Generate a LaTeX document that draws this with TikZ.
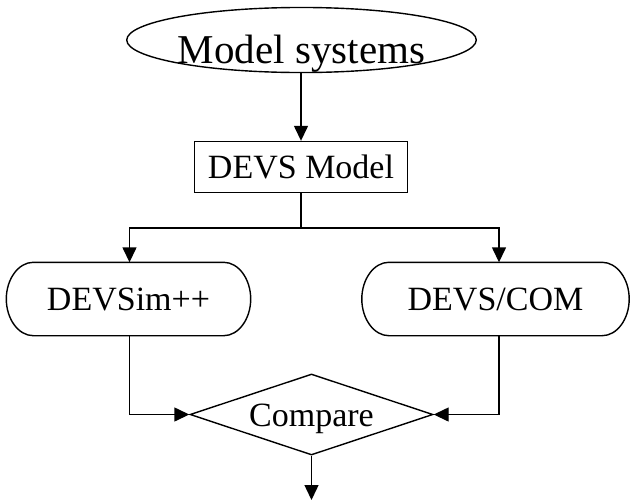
\documentclass[tikz,border=0pt]{standalone}
\usepackage{fontspec}
\setmainfont{Liberation Serif}
\usetikzlibrary{shapes.geometric,arrows.meta}
\begin{document}
\begin{tikzpicture}[x=1pt,y=-1pt,
  every node/.style={inner sep=0pt, line width=1.4pt},
  lbl/.style={font=\fontsize{34}{40}\selectfont, text height=23.5pt, text depth=0pt},
  conn/.style={line width=1.4pt},
  arr/.style={conn, -{Triangle[length=15pt,width=14pt]}},
  oval/.style={draw, ellipse, minimum width=333pt, minimum height=60pt,
    font=\fontsize{41}{48}\selectfont, text height=46pt, text depth=0pt},
  boxnode/.style={draw, rectangle, lbl, minimum width=213pt, minimum height=51pt},
  pill/.style={rectangle, lbl, minimum height=72pt},
  decide/.style={draw, diamond, aspect=3, lbl, minimum width=243pt, minimum height=81pt}
]
\useasboundingbox (0,0) rectangle (631,501);
\node[oval] (ms) at (301.5,40) {Model systems};
\node[boxnode] (dm) at (301,167) {DEVS Model};
\node[pill, minimum width=243pt] (sim) at (128.5,299) {DEVSim++};
\node[pill, minimum width=266pt] (com) at (495.5,299) {DEVS/COM};
\node[decide] (cmp) at (311.5,414.5) {Compare};
\foreach \n in {sim,com}{
  \draw[conn] ([xshift=27pt]\n.north west) -- ([xshift=-27pt]\n.north east)
    .. controls ([xshift=-12.1pt]\n.north east) and ([yshift=19.9pt]\n.east) .. (\n.east)
    .. controls ([yshift=-19.9pt]\n.east) and ([xshift=-12.1pt]\n.south east) .. ([xshift=-27pt]\n.south east)
    -- ([xshift=27pt]\n.south west)
    .. controls ([xshift=12.1pt]\n.south west) and ([yshift=-19.9pt]\n.west) .. (\n.west)
    .. controls ([yshift=19.9pt]\n.west) and ([xshift=12.1pt]\n.north west) .. ([xshift=27pt]\n.north west)
    -- cycle;
}
\coordinate (j) at (301,228);
\coordinate (jl) at (129.5,228);
\coordinate (jr) at (499,228);
\coordinate (out) at (311.5,500);
\draw[arr] (ms.south -| dm.north) -- (dm.north);
\draw[conn] (dm.south) -- (j);
\draw[arr] (j) -- (jl) -- (jl |- sim.north);
\draw[arr] (j) -- (jr) -- (jr |- com.north);
\draw[arr] (jl |- sim.south) |- (cmp.west);
\draw[arr] (jr |- com.south) |- (cmp.east);
\draw[arr] (cmp.south) -- (out);
\end{tikzpicture}
\end{document}
